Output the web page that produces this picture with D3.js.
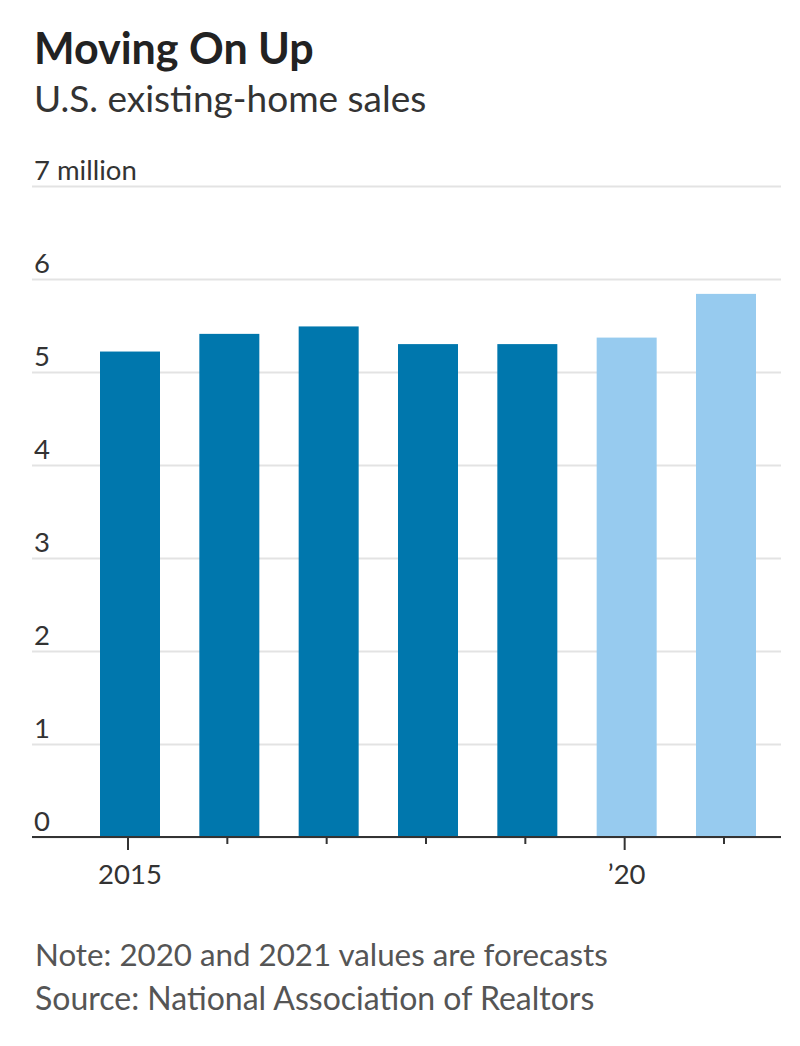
<!DOCTYPE html>
<html><head><meta charset="utf-8">
<script src="https://cdn.jsdelivr.net/npm/d3@7"></script>
<style>body{margin:0;background:#fff}svg{display:block}text{font-family:Lato,"Open Sans",sans-serif}</style>
</head><body><svg id="c" width="800" height="1046"></svg>
<script>
const years = [2015, 2016, 2017, 2018, 2019, 2020, 2021];
const sales = [5.22, 5.41, 5.49, 5.30, 5.30, 5.37, 5.84];
const forecast = [false, false, false, false, false, true, true];
const yTicks = [0, 1, 2, 3, 4, 5, 6, 7];
const yTickLabels = ["0", "1", "2", "3", "4", "5", "6", "7 million"];
const xTickLabels = {2015: "2015", 2020: "\u201920"};
const title = "Moving On Up";
const subtitle = "U.S. existing-home sales";
const note = "Note: 2020 and 2021 values are forecasts";
const source = "Source: National Association of Realtors";

const svg = d3.select("#c");
const left = 32, right = 781;
const x = d3.scaleBand().domain(years).range([100, 756]).paddingInner(0.396).paddingOuter(0);
const y = d3.scaleLinear().domain([0, 7]).range([837, 186]);

// gridlines
const yAxis = d3.axisLeft(y).tickValues(yTicks).tickSize(-(right - left)).tickFormat("");
const gy = svg.append("g").attr("transform", `translate(${left},0)`).call(yAxis);
gy.select(".domain").remove();
gy.selectAll(".tick line").attr("stroke", "#e3e3e3").attr("stroke-width", 2);

// y labels
svg.append("g").selectAll("text").data(yTicks).join("text")
  .attr("x", 34).attr("y", d => y(d) - 6)
  .attr("font-size", 27.5).attr("fill", "#333")
  .text((d, i) => yTickLabels[i]);

// bars
svg.append("g").selectAll("rect").data(years).join("rect")
  .attr("x", d => x(d)).attr("width", x.bandwidth())
  .attr("y", (d, i) => y(sales[i])).attr("height", (d, i) => y(0) - y(sales[i]))
  .attr("fill", (d, i) => forecast[i] ? "#97cbef" : "#0077ad");

// x axis
const xAxis = d3.axisBottom(x).tickSizeOuter(0).tickSize(0).tickFormat("");
const gx = svg.append("g").attr("transform", `translate(0,${y(0)})`).call(xAxis);
gx.select(".domain").remove();
gx.append("line").attr("x1", left).attr("x2", right).attr("stroke", "#333").attr("stroke-width", 2);
gx.selectAll(".tick").append("line")
  .attr("x1", -2).attr("x2", -2).attr("y1", 0)
  .attr("y2", d => xTickLabels[d] ? 13 : 7)
  .attr("stroke", "#333").attr("stroke-width", 2);
gx.selectAll(".tick").append("text")
  .attr("x", 0).attr("y", 47).attr("text-anchor", "middle")
  .attr("font-size", 27.5).attr("fill", "#333")
  .text(d => xTickLabels[d] || "");

// titles
svg.append("text").attr("x", 34).attr("y", 64).attr("font-size", 43).attr("font-weight", 700).attr("fill", "#222").text(title);
svg.append("text").attr("x", 34).attr("y", 112).attr("font-size", 37).attr("fill", "#333").text(subtitle);
svg.append("text").attr("x", 35).attr("y", 966).attr("font-size", 31.3).attr("fill", "#555").text(note);
svg.append("text").attr("x", 35).attr("y", 1010).attr("font-size", 32).attr("fill", "#555").text(source);
</script></body></html>
